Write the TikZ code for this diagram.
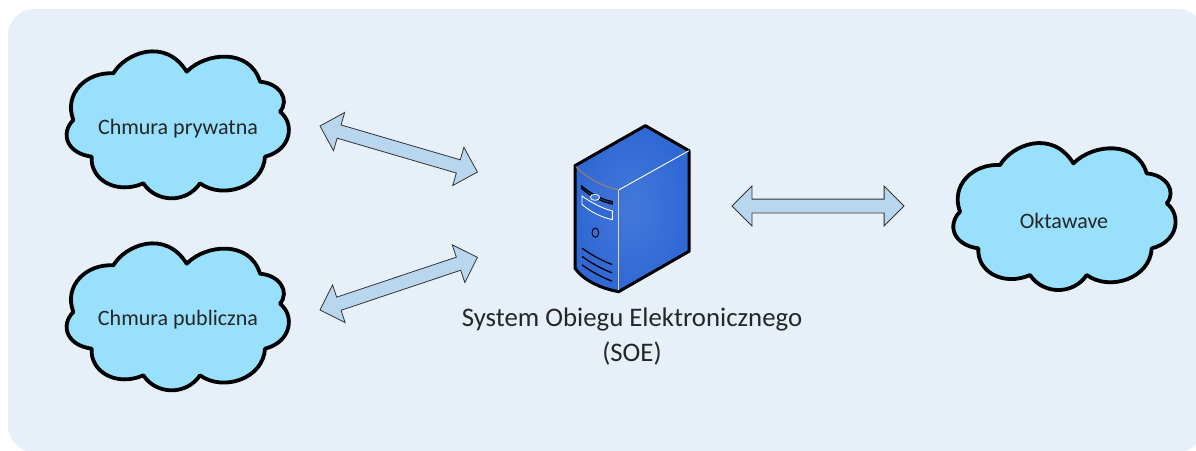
\documentclass[tikz,border=0pt]{standalone}
\usepackage{fontspec}
\setmainfont{Carlito}
\usetikzlibrary{shapes.arrows}
\definecolor{tlo}{HTML}{E7EFF9}
\definecolor{chmura}{HTML}{99E0FC}
\definecolor{strzalka}{HTML}{B9D6EF}
\definecolor{obudowa}{HTML}{3068D4}
\definecolor{obudowajasna}{HTML}{4478DB}
\tikzset{
	cloudpic/.pic={
		\draw [x=1pt/3,y=-1pt/3,line width=3.8pt,fill=chmura,line join=round]
			(190,100) .. controls (225,40) and (345,-10) .. (410,95)
			.. controls (470,35) and (600,25) .. (630,125)
			.. controls (690,130) and (720,180) .. (690,215)
			.. controls (735,250) and (725,330) .. (645,350)
			.. controls (640,440) and (520,480) .. (450,430)
			.. controls (410,490) and (320,490) .. (280,430)
			.. controls (200,465) and (120,420) .. (125,350)
			.. controls (50,340) and (30,280) .. (70,240)
			.. controls (40,160) and (110,95) .. (190,100) -- cycle;
	},
	cloudtext/.style={font=\fontsize{22}{26}\selectfont,text=black!85},
	bigarrow/.style={draw=black!80,line width=.8pt,fill=strzalka,double arrow,double arrow head extend=13pt,
		inner sep=6.5pt,outer sep=0pt},
}
\begin{document}
\begin{tikzpicture}[x=1pt,y=-1pt]
	\useasboundingbox (0,0) rectangle (1196,450);
	\clip (0,0) rectangle (1196,450);
	% background
		\fill [tlo,rounded corners=26pt] (8,9) rectangle (1204,452);
	% clouds
		\pic at (50,40) {cloudpic};
		\pic at (50,232) {cloudpic};
		\pic at (936.7,131.7) {cloudpic};
		\node [cloudtext] (prywatna) at (178,128.5) {Chmura prywatna};
		\node [cloudtext] (publiczna) at (178,319.5) {Chmura publiczna};
		\node [cloudtext] (oktawave) at (1064,220.5) {Oktawave};
	% arrows
		\node [bigarrow,minimum height=164pt,rotate=-16.3] (arrowa) at (398.7,149) {};
		\node [bigarrow,minimum height=166pt,rotate=18.5] (arrowb) at (398.7,283.7) {};
		\node [bigarrow,minimum height=172pt,rotate=0] (arrowc) at (818,206) {};
	% server
		\begin{scope}[shift={(540,110)},x=1pt/3,y=-1pt/3]
			\shade [inner color=obudowajasna,outer color=obudowa]
				(105,167) -- (316,47) -- (447,122) -- (447,424) -- (236,545) .. controls (180,535) and (130,510) .. (105,475) -- cycle;
			% outline
			\draw [line width=3pt,line join=round]
				(105,167) -- (316,47) -- (447,122) -- (447,424) -- (236,545) .. controls (180,535) and (130,510) .. (105,475) -- cycle;
			\draw [white,line width=.9pt] (236,240) -- (447,122);
			\draw [black!15,line width=1.2pt] (236,240) -- (236,540);
			\draw [orange!60!black!70,line width=.8pt] (108,170) .. controls (140,205) and (190,230) .. (236,240);
			% drive bays
			\draw [line width=1.3pt,fill=obudowa!80!black] (125,228) .. controls (150,250) and (185,268) .. (217,275) -- (217,282) .. controls (185,275) and (150,258) .. (125,235) -- cycle;
			\draw [white,line width=.8pt,fill=obudowajasna] (165,262) ellipse (14 and 9);
			\draw [white,line width=.9pt,fill=obudowa] (126,258) .. controls (150,275) and (185,295) .. (217,303) -- (217,329) .. controls (185,322) and (150,305) .. (126,283) -- cycle;
			% power button
			\draw [line width=.9pt] (166,368) ellipse (10 and 14);
			% vents
			\foreach \vy in {0,25,50} {
				\draw [line width=1.3pt,line cap=round] (127,\vy+415) .. controls (150,\vy+432) and (185,\vy+452) .. (215,\vy+463);
			}
		\end{scope}
	% label
		\node [font=\fontsize{26.8}{35}\selectfont,align=center,text=black!85] (soe) at (632,336.5) {System Obiegu Elektronicznego\\(SOE)};
\end{tikzpicture}
\end{document}
